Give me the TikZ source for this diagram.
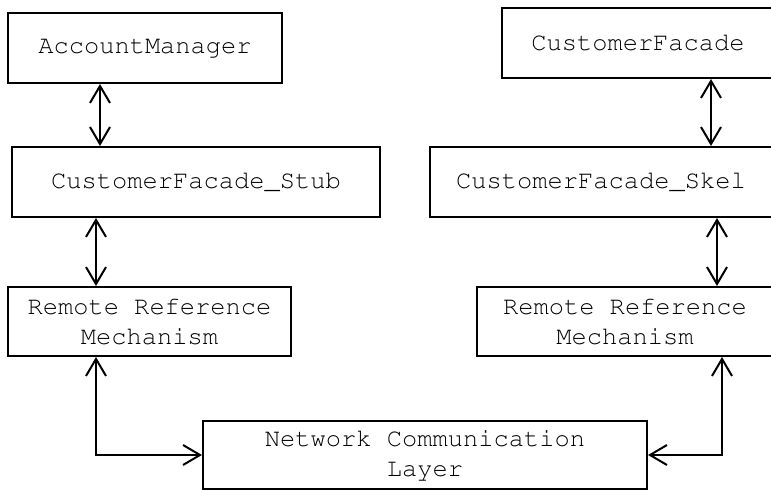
\documentclass[tikz,border=0pt]{standalone}
\usepackage[T1]{fontenc}
\usetikzlibrary{arrows.meta}
\newcommand\codefont{\fontfamily{pcr}\selectfont}
\tikzset{
  layer/.style={draw,line width=1pt,inner sep=0pt,align=center,font=\fontsize{12.7}{15}\codefont},
  link/.style={line width=1pt,{Straight Barb[length=8.5pt,width=10pt]}-{Straight Barb[length=8.5pt,width=10pt]}}
}
\begin{document}
\begin{tikzpicture}[x=0.5pt,y=-0.5pt]
			\useasboundingbox (0,0) rectangle (771,490);
			\foreach \x/\y/\w/\h/\n/\gt in {145/48/137/35/acct/AccountManager,638/43/136/35/facade/CustomerFacade,196/182/184/35/stub/CustomerFacade\_Stub,601/182/171/35/skel/CustomerFacade\_Skel}\path (\x,\y) node[layer,minimum width=\w pt,minimum height=\h pt](\n){\gt};
			\path (149.5,321.5) node[layer,minimum width=141.5pt,minimum height=34.5pt](rrmL){Remote Reference\\Mechanism};
			\path (625,321.5) node[layer,minimum width=148pt,minimum height=34.5pt](rrmR){Remote Reference\\Mechanism};
			\path (425,455) node[layer,minimum width=222pt,minimum height=34pt](net){Network Communication\\Layer};
			\foreach \a/\b/\x in {acct/stub/100,facade/skel/711,stub/rrmL/96,skel/rrmR/717}\draw[link] (\x,0 |- \a.south)--(\x,0 |- \b.north);
			\draw[link] (96,0 |- rrmL.south) |- (net.west);
			\draw[link] (722,0 |- rrmR.south) |- (net.east);
		\end{tikzpicture}
\end{document}
